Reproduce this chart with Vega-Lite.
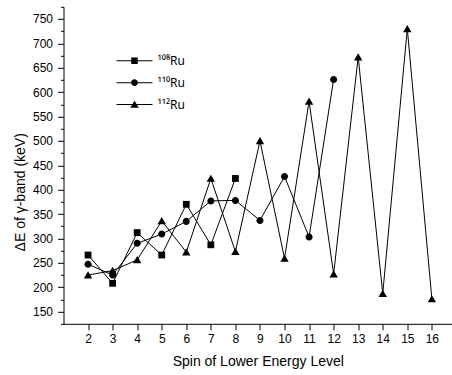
{
  "$schema": "https://vega.github.io/schema/vega-lite/v6.json",
  "width": 388.5,
  "height": 317,
  "autosize": {"type": "none"},
  "padding": {"left": 63.5, "top": 6.8, "right": 0, "bottom": 51.2},
  "background": "white",
  "config": {
    "view": {"stroke": null},
    "font": "Liberation Sans",
    "axis": {
      "domainColor": "black",
      "domainWidth": 1,
      "tickColor": "black",
      "tickWidth": 1,
      "labelColor": "black",
      "titleColor": "black",
      "labelFont": "Liberation Sans",
      "titleFont": "Liberation Sans",
      "labelFontSize": 12,
      "titleFontSize": 14,
      "titleFontWeight": "normal",
      "grid": false
    }
  },
  "data": {
    "values": [
      {"nuc": "108", "spin": 2, "dE": 266},
      {"nuc": "108", "spin": 3, "dE": 208},
      {"nuc": "108", "spin": 4, "dE": 312},
      {"nuc": "108", "spin": 5, "dE": 266},
      {"nuc": "108", "spin": 6, "dE": 370},
      {"nuc": "108", "spin": 7, "dE": 287},
      {"nuc": "108", "spin": 8, "dE": 423},
      {"nuc": "110", "spin": 2, "dE": 247},
      {"nuc": "110", "spin": 3, "dE": 225},
      {"nuc": "110", "spin": 4, "dE": 290},
      {"nuc": "110", "spin": 5, "dE": 309},
      {"nuc": "110", "spin": 6, "dE": 335},
      {"nuc": "110", "spin": 7, "dE": 377},
      {"nuc": "110", "spin": 8, "dE": 378},
      {"nuc": "110", "spin": 9, "dE": 337},
      {"nuc": "110", "spin": 10, "dE": 427},
      {"nuc": "110", "spin": 11, "dE": 303},
      {"nuc": "110", "spin": 12, "dE": 626},
      {"nuc": "112", "spin": 2, "dE": 225},
      {"nuc": "112", "spin": 3, "dE": 234},
      {"nuc": "112", "spin": 4, "dE": 256},
      {"nuc": "112", "spin": 5, "dE": 336},
      {"nuc": "112", "spin": 6, "dE": 272},
      {"nuc": "112", "spin": 7, "dE": 423},
      {"nuc": "112", "spin": 8, "dE": 273},
      {"nuc": "112", "spin": 9, "dE": 500},
      {"nuc": "112", "spin": 10, "dE": 259},
      {"nuc": "112", "spin": 11, "dE": 581},
      {"nuc": "112", "spin": 12, "dE": 227},
      {"nuc": "112", "spin": 13, "dE": 672},
      {"nuc": "112", "spin": 14, "dE": 187},
      {"nuc": "112", "spin": 15, "dE": 730},
      {"nuc": "112", "spin": 16, "dE": 176}
    ]
  },
  "encoding": {
    "x": {
      "field": "spin",
      "type": "quantitative",
      "scale": {"domain": [1, 16.82], "nice": false, "zero": false},
      "axis": {
        "title": "Spin of Lower Energy Level",
        "values": [2, 3, 4, 5, 6, 7, 8, 9, 10, 11, 12, 13, 14, 15, 16],
        "tickSize": 6,
        "labelPadding": 4,
        "titlePadding": 10,
        "labelFlush": false,
        "labelOverlap": false
      }
    },
    "y": {
      "field": "dE",
      "type": "quantitative",
      "scale": {"domain": [125, 775], "nice": false, "zero": false},
      "axis": {
        "title": "ΔE of γ-band (keV)",
        "values": [125, 150, 175, 200, 225, 250, 275, 300, 325, 350, 375, 400, 425, 450, 475, 500, 525, 550, 575, 600, 625, 650, 675, 700, 725, 750, 775],
        "labelExpr": "datum.value % 50 === 0 ? datum.label : ''",
        "tickSize": {"condition": {"test": "datum.value % 50 === 0", "value": 6}, "value": 3},
        "labelPadding": 5,
        "titlePadding": 5,
        "titleY": 185,
        "labelFlush": false,
        "labelOverlap": false
      }
    }
  },
  "resolve": {"scale": {"shape": "independent"}, "legend": {"shape": "independent"}},
  "layer": [
    {
      "mark": {"type": "line", "color": "black", "strokeWidth": 1},
      "encoding": {"detail": {"field": "nuc", "type": "nominal"}}
    },
    {
      "mark": {"type": "point", "filled": true, "color": "black", "opacity": 1, "size": 64},
      "encoding": {
        "shape": {
          "field": "nuc",
          "type": "nominal",
          "scale": {
            "domain": ["108", "110", "112"],
            "range": [
              "M-0.85,-0.85H0.85V0.85H-0.85Z",
              "M-0.88,0A0.88,0.88,0,1,1,0.88,0A0.88,0.88,0,1,1,-0.88,0Z",
              "M0,-0.95L1.05,0.85L-1.05,0.85Z"
            ]
          },
          "legend": null
        }
      }
    },
    {
      "transform": [{"filter": "datum.spin < 0"}],
      "mark": {"type": "point", "filled": true, "color": "black", "opacity": 1, "size": 100},
      "encoding": {
        "shape": {
          "field": "nuc",
          "type": "nominal",
          "scale": {
            "domain": ["108", "110", "112"],
            "range": [
              "M-3.6,-0.1L3.6,-0.1L3.6,0.1L-3.6,0.1Z M-0.65,-0.65L0.65,-0.65L0.65,0.65L-0.65,0.65Z",
              "M-3.6,-0.1L3.6,-0.1L3.6,0.1L-3.6,0.1Z M-0.67,0A0.67,0.67,0,1,1,0.67,0A0.67,0.67,0,1,1,-0.67,0Z",
              "M-3.6,-0.1L3.6,-0.1L3.6,0.1L-3.6,0.1Z M0,-0.75L0.85,0.65L-0.85,0.65Z"
            ]
          },
          "legend": {
            "orient": "none",
            "legendX": 65,
            "legendY": 48,
            "title": null,
            "padding": 0,
            "labelFont": "Noto Sans",
            "labelFontSize": 12,
            "labelColor": "black",
            "labelOffset": 17,
            "rowPadding": 9.9,
            "symbolSize": 100,
            "symbolOpacity": 1,
            "symbolFillColor": "black",
            "symbolStrokeColor": "transparent",
            "symbolStrokeWidth": 0,
            "labelExpr": "datum.value == '108' ? '¹⁰⁸Ru' : datum.value == '110' ? '¹¹⁰Ru' : '¹¹²Ru'"
          }
        }
      }
    }
  ]
}
